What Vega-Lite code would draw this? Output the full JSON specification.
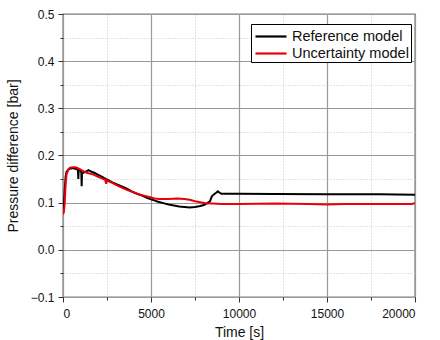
{
  "$schema": "https://vega.github.io/schema/vega-lite/v6.json",
  "width": 352,
  "height": 283,
  "autosize": {"type": "none"},
  "padding": {"left": 63, "top": 14, "right": 25, "bottom": 43},
  "background": "white",
  "config": {
    "font": "Liberation Sans",
    "view": {"stroke": "black", "strokeWidth": 1.2}
  },
  "data": {
    "values": [
      {"t": 0, "v": 0.080, "s": "Reference model"},
      {"t": 50, "v": 0.095, "s": "Reference model"},
      {"t": 100, "v": 0.130, "s": "Reference model"},
      {"t": 150, "v": 0.155, "s": "Reference model"},
      {"t": 200, "v": 0.165, "s": "Reference model"},
      {"t": 300, "v": 0.170, "s": "Reference model"},
      {"t": 400, "v": 0.172, "s": "Reference model"},
      {"t": 500, "v": 0.173, "s": "Reference model"},
      {"t": 600, "v": 0.173, "s": "Reference model"},
      {"t": 700, "v": 0.172, "s": "Reference model"},
      {"t": 800, "v": 0.171, "s": "Reference model"},
      {"t": 850, "v": 0.168, "s": "Reference model"},
      {"t": 870, "v": 0.150, "s": "Reference model"},
      {"t": 890, "v": 0.168, "s": "Reference model"},
      {"t": 950, "v": 0.170, "s": "Reference model"},
      {"t": 1000, "v": 0.168, "s": "Reference model"},
      {"t": 1040, "v": 0.165, "s": "Reference model"},
      {"t": 1060, "v": 0.135, "s": "Reference model"},
      {"t": 1080, "v": 0.162, "s": "Reference model"},
      {"t": 1150, "v": 0.163, "s": "Reference model"},
      {"t": 1300, "v": 0.166, "s": "Reference model"},
      {"t": 1450, "v": 0.169, "s": "Reference model"},
      {"t": 1600, "v": 0.166, "s": "Reference model"},
      {"t": 1800, "v": 0.163, "s": "Reference model"},
      {"t": 2000, "v": 0.159, "s": "Reference model"},
      {"t": 2200, "v": 0.155, "s": "Reference model"},
      {"t": 2400, "v": 0.151, "s": "Reference model"},
      {"t": 2600, "v": 0.147, "s": "Reference model"},
      {"t": 2800, "v": 0.143, "s": "Reference model"},
      {"t": 3000, "v": 0.140, "s": "Reference model"},
      {"t": 3300, "v": 0.135, "s": "Reference model"},
      {"t": 3600, "v": 0.130, "s": "Reference model"},
      {"t": 3900, "v": 0.124, "s": "Reference model"},
      {"t": 4200, "v": 0.119, "s": "Reference model"},
      {"t": 4500, "v": 0.115, "s": "Reference model"},
      {"t": 4800, "v": 0.110, "s": "Reference model"},
      {"t": 5100, "v": 0.106, "s": "Reference model"},
      {"t": 5400, "v": 0.102, "s": "Reference model"},
      {"t": 5700, "v": 0.099, "s": "Reference model"},
      {"t": 6000, "v": 0.096, "s": "Reference model"},
      {"t": 6300, "v": 0.094, "s": "Reference model"},
      {"t": 6600, "v": 0.092, "s": "Reference model"},
      {"t": 6900, "v": 0.091, "s": "Reference model"},
      {"t": 7200, "v": 0.090, "s": "Reference model"},
      {"t": 7500, "v": 0.091, "s": "Reference model"},
      {"t": 7800, "v": 0.093, "s": "Reference model"},
      {"t": 8000, "v": 0.095, "s": "Reference model"},
      {"t": 8200, "v": 0.099, "s": "Reference model"},
      {"t": 8350, "v": 0.103, "s": "Reference model"},
      {"t": 8450, "v": 0.113, "s": "Reference model"},
      {"t": 8550, "v": 0.117, "s": "Reference model"},
      {"t": 8700, "v": 0.121, "s": "Reference model"},
      {"t": 8800, "v": 0.124, "s": "Reference model"},
      {"t": 8900, "v": 0.121, "s": "Reference model"},
      {"t": 9000, "v": 0.119, "s": "Reference model"},
      {"t": 10000, "v": 0.119, "s": "Reference model"},
      {"t": 12000, "v": 0.1185, "s": "Reference model"},
      {"t": 15000, "v": 0.118, "s": "Reference model"},
      {"t": 18000, "v": 0.118, "s": "Reference model"},
      {"t": 20000, "v": 0.117, "s": "Reference model"},
      {"t": 0, "v": 0.075, "s": "Uncertainty model"},
      {"t": 50, "v": 0.080, "s": "Uncertainty model"},
      {"t": 100, "v": 0.100, "s": "Uncertainty model"},
      {"t": 150, "v": 0.140, "s": "Uncertainty model"},
      {"t": 200, "v": 0.160, "s": "Uncertainty model"},
      {"t": 300, "v": 0.170, "s": "Uncertainty model"},
      {"t": 400, "v": 0.174, "s": "Uncertainty model"},
      {"t": 550, "v": 0.175, "s": "Uncertainty model"},
      {"t": 700, "v": 0.175, "s": "Uncertainty model"},
      {"t": 850, "v": 0.173, "s": "Uncertainty model"},
      {"t": 1000, "v": 0.170, "s": "Uncertainty model"},
      {"t": 1200, "v": 0.166, "s": "Uncertainty model"},
      {"t": 1400, "v": 0.163, "s": "Uncertainty model"},
      {"t": 1700, "v": 0.160, "s": "Uncertainty model"},
      {"t": 2000, "v": 0.155, "s": "Uncertainty model"},
      {"t": 2300, "v": 0.150, "s": "Uncertainty model"},
      {"t": 2400, "v": 0.148, "s": "Uncertainty model"},
      {"t": 2450, "v": 0.140, "s": "Uncertainty model"},
      {"t": 2500, "v": 0.147, "s": "Uncertainty model"},
      {"t": 2800, "v": 0.142, "s": "Uncertainty model"},
      {"t": 3100, "v": 0.136, "s": "Uncertainty model"},
      {"t": 3400, "v": 0.131, "s": "Uncertainty model"},
      {"t": 3700, "v": 0.126, "s": "Uncertainty model"},
      {"t": 4000, "v": 0.122, "s": "Uncertainty model"},
      {"t": 4300, "v": 0.118, "s": "Uncertainty model"},
      {"t": 4600, "v": 0.115, "s": "Uncertainty model"},
      {"t": 4900, "v": 0.112, "s": "Uncertainty model"},
      {"t": 5200, "v": 0.109, "s": "Uncertainty model"},
      {"t": 5500, "v": 0.108, "s": "Uncertainty model"},
      {"t": 6000, "v": 0.108, "s": "Uncertainty model"},
      {"t": 6500, "v": 0.109, "s": "Uncertainty model"},
      {"t": 6900, "v": 0.108, "s": "Uncertainty model"},
      {"t": 7200, "v": 0.106, "s": "Uncertainty model"},
      {"t": 7500, "v": 0.103, "s": "Uncertainty model"},
      {"t": 7800, "v": 0.101, "s": "Uncertainty model"},
      {"t": 8100, "v": 0.099, "s": "Uncertainty model"},
      {"t": 8500, "v": 0.098, "s": "Uncertainty model"},
      {"t": 9000, "v": 0.097, "s": "Uncertainty model"},
      {"t": 10000, "v": 0.097, "s": "Uncertainty model"},
      {"t": 12000, "v": 0.098, "s": "Uncertainty model"},
      {"t": 14000, "v": 0.097, "s": "Uncertainty model"},
      {"t": 15000, "v": 0.096, "s": "Uncertainty model"},
      {"t": 16000, "v": 0.097, "s": "Uncertainty model"},
      {"t": 18000, "v": 0.097, "s": "Uncertainty model"},
      {"t": 19800, "v": 0.097, "s": "Uncertainty model"},
      {"t": 20000, "v": 0.099, "s": "Uncertainty model"}
    ]
  },
  "mark": {"type": "line", "strokeWidth": 2, "clip": true},
  "encoding": {
    "x": {
      "field": "t",
      "type": "quantitative",
      "scale": {"domain": [0, 20000], "nice": false, "zero": false},
      "axis": {
        "title": "Time [s]",
        "titleFontSize": 14,
        "titleFontWeight": "normal",
        "titleColor": "#111",
        "titlePadding": 6,
        "values": [0, 2500, 5000, 7500, 10000, 12500, 15000, 17500, 20000],
        "labelExpr": "datum.value % 5000 == 0 ? format(datum.value, 'd') : ''",
        "labelFontSize": 12,
        "labelColor": "#111",
        "labelPadding": 6,
        "domain": false,
        "tickColor": "#333",
        "tickSize": {"condition": {"test": "datum.value % 5000 == 0", "value": 5}, "value": 3},
        "gridColor": {"condition": {"test": "datum.value % 5000 == 0", "value": "#999"}, "value": "#bbb"},
        "gridDash": {"condition": {"test": "datum.value % 5000 == 0", "value": []}, "value": [1, 2]},
        "gridWidth": {"condition": {"test": "datum.value % 5000 == 0", "value": 1.2}, "value": 0.8}
      }
    },
    "y": {
      "field": "v",
      "type": "quantitative",
      "scale": {"domain": [-0.1, 0.5], "nice": false, "zero": false},
      "axis": {
        "title": "Pressure difference [bar]",
        "titleFontSize": 14,
        "titleFontWeight": "normal",
        "titleColor": "#111",
        "titlePadding": 10,
        "values": [-0.1, -0.05, 0, 0.05, 0.1, 0.15, 0.2, 0.25, 0.3, 0.35, 0.4, 0.45, 0.5],
        "labelExpr": "abs(round(datum.value * 100)) % 10 == 0 ? format(datum.value, '.1f') : ''",
        "labelFontSize": 12,
        "labelColor": "#111",
        "labelPadding": 4,
        "domain": false,
        "tickColor": "#333",
        "tickSize": {"condition": {"test": "abs(round(datum.value * 100)) % 10 == 0", "value": 5}, "value": 3},
        "gridColor": {"condition": {"test": "abs(round(datum.value * 100)) % 10 == 0", "value": "#999"}, "value": "#bbb"},
        "gridDash": {"condition": {"test": "abs(round(datum.value * 100)) % 10 == 0", "value": []}, "value": [1, 2]},
        "gridWidth": {"condition": {"test": "abs(round(datum.value * 100)) % 10 == 0", "value": 1.2}, "value": 0.8}
      }
    },
    "color": {
      "field": "s",
      "type": "nominal",
      "scale": {"domain": ["Reference model", "Uncertainty model"], "range": ["#000000", "#e8000b"]},
      "legend": {
        "title": null,
        "orient": "none",
        "legendX": 188,
        "legendY": 10,
        "direction": "vertical",
        "fillColor": "white",
        "strokeColor": "black",
        "padding": 2,
        "symbolType": "M-0.89,0H2.56",
        "symbolSize": 324,
        "symbolStrokeWidth": 2.2,
        "labelFontSize": 14.5,
        "labelColor": "#111",
        "labelOffset": 18,
        "rowPadding": 0
      }
    }
  }
}
